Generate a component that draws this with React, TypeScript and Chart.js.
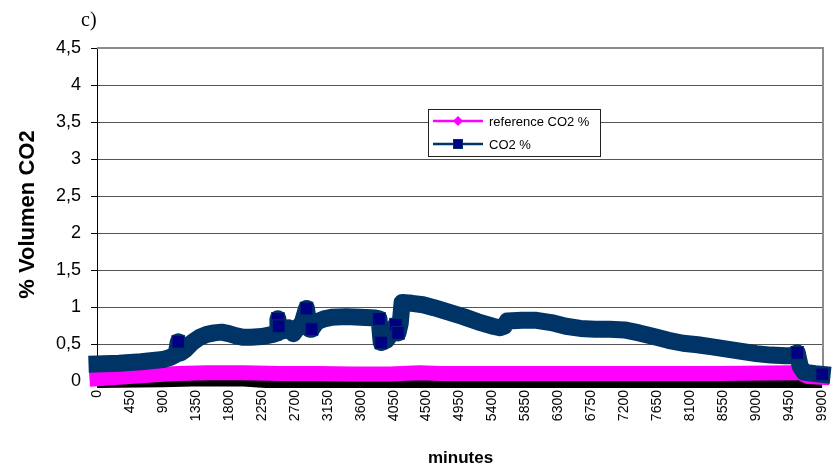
import React, { useEffect, useRef } from 'react';
import { Chart, registerables } from 'chart.js';

Chart.register(...registerables);

// ---- data ----
const panelLabel = 'c)';
const xTitle = 'minutes';
const yTitle = '% Volumen CO2';
const seriesNames = ['reference CO2 %', 'CO2 %'];

const xTickMinutes = [0, 450, 900, 1350, 1800, 2250, 2700, 3150, 3600, 4050, 4500, 4950, 5400, 5850, 6300, 6750, 7200, 7650, 8100, 8550, 9000, 9450, 9900];
const yTicks = [0, 0.5, 1, 1.5, 2, 2.5, 3, 3.5, 4, 4.5];

const co2Minutes = [0, 300, 600, 900, 1000, 1080, 1110, 1140, 1200, 1300, 1400, 1500, 1600, 1700, 1800, 1900, 2000, 2100, 2250, 2400, 2460, 2470, 2480, 2550, 2620, 2680, 2740, 2800, 2860, 2900, 2930, 3000, 3100, 3200, 3400, 3600, 3800, 3850, 3880, 3950, 4000, 4050, 4080, 4110, 4140, 4165, 4300, 4450, 4600, 4800, 5000, 5200, 5400, 5500, 5560, 5600, 5800, 6000, 6200, 6400, 6600, 6800, 7000, 7200, 7400, 7600, 7800, 8000, 8200, 8400, 8600, 8800, 9000, 9200, 9400, 9480, 9560, 9600, 9650, 9800, 9900];
const co2Values = [0.23, 0.24, 0.26, 0.29, 0.32, 0.36, 0.53, 0.38, 0.42, 0.52, 0.59, 0.63, 0.65, 0.66, 0.64, 0.61, 0.59, 0.59, 0.6, 0.63, 0.65, 0.84, 0.74, 0.68, 0.72, 0.64, 0.72, 0.78, 0.98, 0.7, 0.7, 0.8, 0.84, 0.86, 0.87, 0.86, 0.85, 0.84, 0.52, 0.55, 0.62, 0.7, 0.76, 0.65, 0.78, 1.06, 1.05, 1.03, 0.99, 0.93, 0.87, 0.8, 0.74, 0.72, 0.74, 0.81, 0.82, 0.82, 0.79, 0.74, 0.71, 0.7, 0.7, 0.69, 0.65, 0.6, 0.55, 0.51, 0.49, 0.46, 0.43, 0.4, 0.37, 0.35, 0.34, 0.34, 0.38, 0.2, 0.12, 0.1, 0.09];
const co2MarkerMinutes = [1110, 2470, 2480, 2860, 2930, 3850, 3880, 4080, 4110, 9560, 9900];

const refMinutes = [0, 300, 600, 900, 1100, 1500, 2000, 2500, 3000, 3500, 4000, 4400, 4700, 5500, 6500, 7500, 8500, 9500, 9600, 9700, 9900];
const refValues = [0.03, 0.05, 0.07, 0.09, 0.1, 0.11, 0.11, 0.1, 0.1, 0.095, 0.095, 0.11, 0.1, 0.1, 0.1, 0.1, 0.1, 0.11, 0.11, 0.06, 0.05];

const baseMinutes = [0, 900, 1300, 2000, 2300, 9900];
const baseValues = [0, 0.01, 0.02, 0.02, 0, 0];

const FONT = '"Liberation Sans", Arial, sans-serif';
const NAVY = '#003366';
const NAVY_MARK = '#000080';
const MAGENTA = '#FF00FF';

const toPoints = (xs: number[], ys: number[]) => xs.map((x, i) => ({ x, y: ys[i] }));

const framePlugin = {
  id: 'frame',
  beforeDatasetsDraw(chart: any) {
    const { ctx, chartArea: a } = chart;
    ctx.save();
    ctx.strokeStyle = '#8c8c8c';
    ctx.lineWidth = 2;
    ctx.beginPath();
    ctx.moveTo(a.left, a.top);
    ctx.lineTo(a.right - 1, a.top);
    ctx.lineTo(a.right - 1, a.bottom);
    ctx.stroke();
    ctx.restore();
  },
  afterDatasetsDraw(chart: any) {
    const { ctx } = chart;
    ctx.save();
    const bx = 428.5, by = 109.5, bw = 172, bh = 47;
    ctx.fillStyle = '#ffffff';
    ctx.fillRect(bx, by, bw, bh);
    ctx.strokeStyle = '#222';
    ctx.lineWidth = 1;
    ctx.strokeRect(bx, by, bw, bh);
    const rows = [
      { y: 121, color: MAGENTA, name: seriesNames[0], marker: 'diamond' },
      { y: 144, color: NAVY, name: seriesNames[1], marker: 'square' },
    ];
    rows.forEach((r) => {
      ctx.strokeStyle = r.color;
      ctx.lineWidth = 2.5;
      ctx.beginPath();
      ctx.moveTo(433, r.y);
      ctx.lineTo(483, r.y);
      ctx.stroke();
      if (r.marker === 'diamond') {
        ctx.fillStyle = MAGENTA;
        ctx.beginPath();
        ctx.moveTo(458, r.y - 5);
        ctx.lineTo(463, r.y);
        ctx.lineTo(458, r.y + 5);
        ctx.lineTo(453, r.y);
        ctx.closePath();
        ctx.fill();
      } else {
        ctx.fillStyle = NAVY_MARK;
        ctx.fillRect(453.5, r.y - 4.5, 9, 9);
        ctx.strokeStyle = NAVY;
        ctx.lineWidth = 1;
        ctx.strokeRect(453.5, r.y - 4.5, 9, 9);
      }
      ctx.fillStyle = '#000';
      ctx.font = `13px ${FONT}`;
      ctx.textAlign = 'left';
      ctx.textBaseline = 'middle';
      ctx.fillText(r.name, 489, r.y + 1);
    });
    ctx.restore();
  },
  afterDraw(chart: any) {
    const { ctx } = chart;
    ctx.save();
    ctx.fillStyle = '#000';
    ctx.font = '20px "Liberation Serif", "Times New Roman", serif';
    ctx.textAlign = 'left';
    ctx.textBaseline = 'alphabetic';
    ctx.fillText(panelLabel, 81, 26);
    ctx.restore();
  },
};

export default function App() {
  const ref = useRef<HTMLCanvasElement | null>(null);

  useEffect(() => {
    document.body.style.margin = '0';
    const canvas = ref.current;
    if (!canvas) return;
    const markerSet = new Set(co2MarkerMinutes);
    const chart = new Chart(canvas, {
      type: 'line',
      data: {
        datasets: [
          {
            label: seriesNames[1],
            data: toPoints(co2Minutes, co2Values),
            borderColor: NAVY,
            backgroundColor: NAVY_MARK,
            borderWidth: 17,
            borderJoinStyle: 'round',
            borderCapStyle: 'square',
            tension: 0,
            pointStyle: 'rect',
            pointRadius: (c: any) => (c.raw && markerSet.has(c.raw.x) ? 9 : 0),
            pointBackgroundColor: NAVY_MARK,
            pointBorderColor: NAVY,
            pointBorderWidth: 1,
            order: 0,
            clip: 14,
          },
          {
            label: seriesNames[0],
            data: toPoints(refMinutes, refValues),
            borderColor: MAGENTA,
            backgroundColor: MAGENTA,
            borderWidth: 15,
            borderJoinStyle: 'round',
            borderCapStyle: 'square',
            tension: 0,
            pointRadius: 0,
            order: 1,
            clip: 14,
          },
          {
            label: 'base',
            data: toPoints(baseMinutes, baseValues),
            borderColor: '#000000',
            borderWidth: 14,
            borderCapStyle: 'butt',
            tension: 0,
            pointRadius: 0,
            order: 2,
            clip: 14,
          },
        ],
      },
      options: {
        responsive: false,
        animation: false,
        events: [],
        layout: { padding: { top: 48, right: 2, left: 0, bottom: 0 } },
        plugins: { legend: { display: false }, tooltip: { enabled: false }, title: { display: false } },
        scales: {
          x: {
            type: 'linear',
            min: 0,
            max: 9925,
            afterBuildTicks: (s: any) => {
              s.ticks = xTickMinutes.map((v) => ({ value: v }));
            },
            afterFit: (s: any) => {
              s.height = 91;
              s.paddingLeft = 0;
              s.paddingRight = 0;
            },
            grid: { display: false, drawTicks: false },
            border: { display: true, color: '#000', width: 1 },
            ticks: {
              autoSkip: false,
              maxRotation: 90,
              minRotation: 90,
              padding: 9,
              color: '#000',
              font: { family: FONT, size: 14 },
              callback: (v: any) => String(v),
            },
            title: {
              display: true,
              text: xTitle,
              color: '#000',
              font: { family: FONT, size: 17, weight: 'bold' },
              padding: { top: 0, bottom: 3 },
            },
          },
          y: {
            min: 0,
            max: 4.5,
            afterBuildTicks: (s: any) => {
              s.ticks = yTicks.map((v) => ({ value: v }));
            },
            afterFit: (s: any) => {
              s.width = 97;
              s.paddingTop = 0;
              s.paddingBottom = 0;
            },
            grid: {
              color: '#555555',
              lineWidth: 1,
              drawTicks: true,
              tickLength: 6,
              tickColor: '#000',
            },
            border: { display: true, color: '#000', width: 1 },
            ticks: {
              padding: 10,
              color: '#000',
              font: { family: FONT, size: 18 },
              callback: (v: any) => String(v).replace('.', ','),
            },
            title: {
              display: true,
              text: yTitle,
              color: '#000',
              font: { family: FONT, size: 22, weight: 'bold' },
              padding: { top: 15, bottom: 0 },
            },
          },
        },
      },
      plugins: [framePlugin],
    } as any);
    return () => chart.destroy();
  }, []);

  return (
    <div style={{ width: 834, height: 472, background: '#fff' }}>
      <canvas ref={ref} width={834} height={472} style={{ display: 'block' }} />
    </div>
  );
}
